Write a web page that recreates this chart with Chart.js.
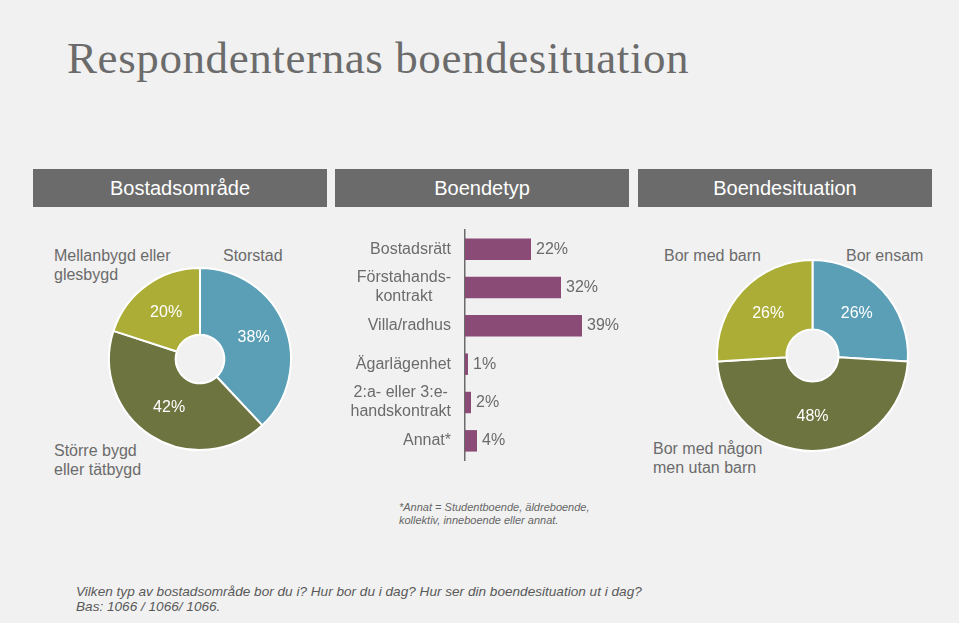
<!DOCTYPE html>
<html>
<head>
<meta charset="utf-8">
<script src="https://cdn.jsdelivr.net/npm/chart.js@4"></script>
<style>
  html, body { margin:0; padding:0; background:#f1f1f1; }
  #page { position:relative; width:959px; height:623px; overflow:hidden; background:#f1f1f1; font-family:"Liberation Sans", Arial, sans-serif; color:#6b6b6b; }
  .abs { position:absolute; white-space:nowrap; }
  #title { left:67px; top:36px; font-family:"Liberation Serif", serif; font-size:45px; line-height:45px; letter-spacing:0.6px; color:#6b6b6b; }
  .hdr { position:absolute; top:169px; height:38px; width:294px; background:#6b6b6b; color:#fff; font-size:20px; line-height:38px; text-align:center; }
  .lbl { font-size:16px; line-height:19px; color:#6b6b6b; }
  #foot1 { left:399px; top:501px; font-size:11px; line-height:13px; font-style:italic; color:#666; }
  #foot2 { left:76px; top:584px; font-size:13.6px; line-height:15px; font-style:italic; color:#595959; }
  canvas { position:absolute; }
</style>
</head>
<body>
<div id="page">
  <div id="title" class="abs">Respondenternas boendesituation</div>
  <div class="hdr" style="left:33px">Bostadsområde</div>
  <div class="hdr" style="left:335px">Boendetyp</div>
  <div class="hdr" style="left:638px">Boendesituation</div>

  <div class="abs lbl" style="left:54px;top:246px">Mellanbygd eller<br>glesbygd</div>
  <div class="abs lbl" style="left:223px;top:246px">Storstad</div>
  <div class="abs lbl" style="left:54px;top:441px">Större bygd<br>eller tätbygd</div>

  <div class="abs lbl" style="left:664px;top:246px">Bor med barn</div>
  <div class="abs lbl" style="left:846px;top:246px">Bor ensam</div>
  <div class="abs lbl" style="left:653px;top:439px">Bor med någon<br>men utan barn</div>

  <div id="foot1" class="abs">*Annat = Studentboende, äldreboende,<br>kollektiv, inneboende eller annat.</div>
  <div id="foot2" class="abs">Vilken typ av bostadsområde bor du i? Hur bor du i dag? Hur ser din boendesituation ut i dag?<br>Bas: 1066 / 1066/ 1066.</div>

  <canvas id="c1" width="200" height="200" style="left:100px;top:259px"></canvas>
  <canvas id="c2" width="300" height="240" style="left:330px;top:226px"></canvas>
  <canvas id="c3" width="211" height="211" style="left:707px;top:250px"></canvas>
</div>
<script>
// ---- Data ----
const areaCategories = ['Storstad', 'Större bygd eller tätbygd', 'Mellanbygd eller glesbygd'];
const areaValues = [38, 42, 20];

const housingCategories = [['Bostadsrätt'], ['Förstahands-', 'kontrakt'], ['Villa/radhus'], ['Ägarlägenhet'], ['2:a- eller 3:e-', 'handskontrakt'], ['Annat*']];
const housingValues = [22, 32, 39, 1, 2, 4];

const situationCategories = ['Bor ensam', 'Bor med någon men utan barn', 'Bor med barn'];
const situationValues = [26, 48, 26];

// ---- Styles ----
const COL_BLUE = '#5a9fb6';
const COL_OLIVE = '#6e7440';
const COL_YELLOW = '#abad36';
const COL_PURPLE = '#8a4b77';
const TXT = '#6b6b6b';
const FONT = '"Liberation Sans", Arial, sans-serif';

Chart.defaults.font.family = FONT;
Chart.defaults.animation = false;

const donutLabels = {
  id: 'donutLabels',
  afterDatasetsDraw(chart) {
    const ctx = chart.ctx;
    const meta = chart.getDatasetMeta(0);
    const vals = chart.data.datasets[0].data;
    ctx.save();
    ctx.fillStyle = '#ffffff';
    ctx.font = '16px ' + FONT;
    ctx.textAlign = 'center';
    ctx.textBaseline = 'middle';
    meta.data.forEach((arc, i) => {
      const p = arc.tooltipPosition();
      ctx.fillText(vals[i] + '%', p.x, p.y);
    });
    ctx.restore();
  }
};

function donut(id, labels, values, radius, cutout) {
  return new Chart(document.getElementById(id), {
    type: 'doughnut',
    data: {
      labels: labels,
      datasets: [{
        data: values,
        backgroundColor: [COL_BLUE, COL_OLIVE, COL_YELLOW],
        borderColor: '#ffffff',
        borderWidth: 2
      }]
    },
    options: {
      responsive: false,
      devicePixelRatio: 1,
      radius: radius,
      cutout: cutout,
      plugins: { legend: { display: false }, tooltip: { enabled: false } }
    },
    plugins: [donutLabels]
  });
}

donut('c1', areaCategories, areaValues, 91, 26.5);
donut('c3', situationCategories, situationValues, 95.5, 28.5);

const barLabels = {
  id: 'barLabels',
  afterDatasetsDraw(chart) {
    const ctx = chart.ctx;
    const yScale = chart.scales.y;
    const meta = chart.getDatasetMeta(0);
    const vals = chart.data.datasets[0].data;
    const area = chart.chartArea;
    ctx.save();
    ctx.font = '16px ' + FONT;
    ctx.fillStyle = TXT;
    ctx.textBaseline = 'middle';
    const lineH = 19;
    chart.data.labels.forEach((lines, i) => {
      const y = yScale.getPixelForValue(i);
      const maxW = Math.max(...lines.map(l => ctx.measureText(l).width));
      const cx = area.left - 14 - maxW / 2;
      ctx.textAlign = 'center';
      lines.forEach((l, k) => {
        ctx.fillText(l, cx, y + (k - (lines.length - 1) / 2) * lineH);
      });
      const bar = meta.data[i];
      ctx.textAlign = 'left';
      ctx.fillText(vals[i] + '%', bar.x + 5, y);
    });
    ctx.restore();
  }
};

new Chart(document.getElementById('c2'), {
  type: 'bar',
  data: {
    labels: housingCategories,
    datasets: [{
      data: housingValues,
      backgroundColor: COL_PURPLE,
      barPercentage: 0.56,
      categoryPercentage: 1
    }]
  },
  options: {
    indexAxis: 'y',
    responsive: false,
    devicePixelRatio: 1,
    layout: { padding: { top: 4, bottom: 6, right: 15, left: 0 } },
    scales: {
      x: { type: 'linear', min: 0, max: 50, display: false },
      y: {
        grid: { display: false },
        border: { display: true, color: '#6b6b6b', width: 1.5 },
        ticks: { display: false },
        afterFit(scale) { scale.width = 135; }
      }
    },
    plugins: { legend: { display: false }, tooltip: { enabled: false } }
  },
  plugins: [barLabels]
});
</script>
</body>
</html>
